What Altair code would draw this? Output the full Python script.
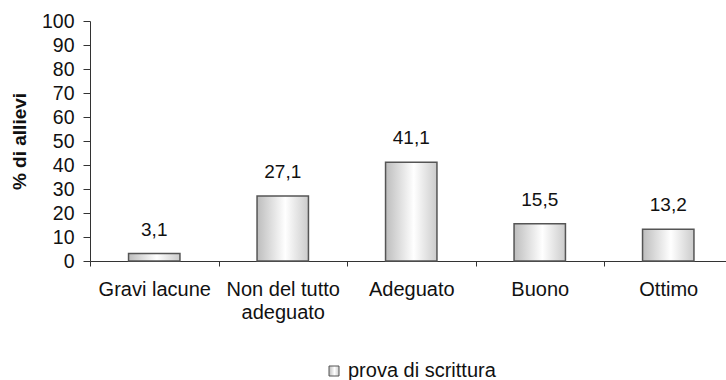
import altair as alt
import pandas as pd

categorie = ["Gravi lacune", "Non del tutto\nadeguato", "Adeguato", "Buono", "Ottimo"]
valori = [3.1, 27.1, 41.1, 15.5, 13.2]
etichette = ["3,1", "27,1", "41,1", "15,5", "13,2"]
serie = ["prova di scrittura"] * 5
y_ticks = list(range(0, 101, 10))

df = pd.DataFrame({"cat": categorie, "val": valori, "lab": etichette, "serie": serie})

FONT = "Liberation Sans"

x = alt.X(
    "cat:N",
    sort=categorie,
    scale=alt.Scale(range=[0, 642.5], paddingInner=0, paddingOuter=0),
    axis=alt.Axis(
        title=None,
        labelAngle=0,
        labelExpr="split(datum.label, '\\n')",
        labelLineHeight=23,
        labelPadding=13,
        tickBand="extent",
        tickSize=5,
        labelLimit=0,
        labelOverlap=False,
    ),
)

y = alt.Y(
    "val:Q",
    scale=alt.Scale(domain=[0, 100], nice=False),
    axis=alt.Axis(
        title="% di allievi",
        titlePadding=12,
        values=y_ticks,
        labelPadding=9,
        labelOverlap=False,
        tickSize=7,
        grid=False,
    ),
)

grad = alt.Gradient(
    gradient="linear",
    stops=[
        alt.GradientStop(color="#bdbdbd", offset=0),
        alt.GradientStop(color="#ffffff", offset=0.55),
        alt.GradientStop(color="#cbcbcb", offset=1),
    ],
    x1=0, x2=1, y1=0, y2=0,
)

bars = alt.Chart(df).mark_bar(
    fill=grad, strokeWidth=1.5, width=alt.RelativeBandSize(0.4)
).encode(
    x=x,
    y=y,
    stroke=alt.Stroke(
        "serie:N",
        scale=alt.Scale(range=["#555555"]),
        legend=alt.Legend(
            title=None,
            orient="none",
            legendX=234,
            legendY=340,
            symbolType="square",
            symbolSize=100,
            symbolFillColor="white",
            symbolStrokeWidth=1,
            labelFont=FONT,
            labelFontSize=20,
            labelColor="#111",
            labelOffset=4,
            padding=0,
        ),
    ),
)

text = alt.Chart(df).mark_text(
    dy=-18, fontSize=19, font=FONT, color="#111", baseline="alphabetic"
).encode(x=x, y=y, text="lab:N")

chart = (
    alt.layer(bars, text)
    .properties(
        width=636,
        height=240,
        autosize=alt.AutoSizeParams(type="none"),
        padding={"left": 90, "top": 21, "right": 0, "bottom": 119},
        background="white",
    )
    .configure_view(stroke=None)
    .configure_axis(
        labelFont=FONT,
        labelColor="#111",
        titleFont=FONT,
        titleColor="#111",
        tickColor="#333",
        domainColor="#333",
    )
    .configure_axisX(labelFontSize=20)
    .configure_axisY(labelFontSize=19.5, titleFontSize=19, titleFontWeight="bold")
)

chart.save("out.html", embed_options={"renderer": "svg", "actions": False})
